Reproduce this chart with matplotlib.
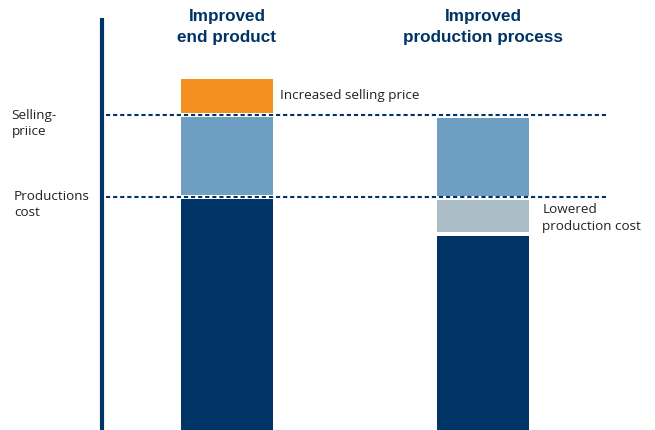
import matplotlib
matplotlib.use("Agg")
import matplotlib.pyplot as plt

# Data (arbitrary units, 0 = bottom of chart)
categories = ["Improved\nend product", "Improved\nproduction process"]
seg_names = ["base cost", "lowered cost", "margin", "increased price"]
seg_bottoms = {
    "base cost": [0, 0],
    "lowered cost": [None, 198],
    "margin": [235, 234],
    "increased price": [317, None],
}
seg_tops = {
    "base cost": [231, 194],
    "lowered cost": [None, 230],
    "margin": [313, 312],
    "increased price": [351, None],
}
seg_colors = {
    "base cost": "#003366",
    "lowered cost": "#ABBDC7",
    "margin": "#6F9EC3",
    "increased price": "#F39020",
}
selling_price = 315
production_cost = 233
level_labels = ["Selling-\npriice", "Productions\ncost"]

navy = "#003366"
fig = plt.figure(figsize=(6.55, 4.30), dpi=100)
ax = fig.add_axes([0, 0, 1, 1])
ax.set_xlim(-0.885, 1.669)
ax.set_ylim(0, 430)
ax.axis("off")

x = list(range(len(categories)))
for name in seg_names:
    for i in x:
        b = seg_bottoms[name][i]
        t = seg_tops[name][i]
        if b is None:
            continue
        ax.bar(i, t - b, bottom=b, width=0.359, color=seg_colors[name],
               edgecolor="none", zorder=2)

# vertical axis line
ax.plot([-0.487, -0.487], [0, 412], color=navy, lw=3, solid_capstyle="butt", zorder=3)

# dotted level lines
for lvl in [selling_price, production_cost]:
    ax.plot([-0.473, 1.485], [lvl, lvl], color=navy, lw=1.5,
            dashes=(2.0, 1.4), zorder=3)

# category titles
for i, c in enumerate(categories):
    ax.text(i, 421, c, ha="center", va="top", fontsize=12.3, fontweight="bold",
            color=navy, family="Liberation Sans", linespacing=1.5)

# level labels
ax.text(-0.84, 321, level_labels[0], ha="left", va="top", fontsize=9.7,
        color="#222222", family="Open Sans", linespacing=1.35)
ax.text(-0.83, 240, level_labels[1], ha="left", va="top", fontsize=9.7,
        color="#222222", family="Open Sans", linespacing=1.35)

# annotations
ax.text(0.205, 334, "Increased selling price", ha="left", va="center",
        fontsize=9.7, color="#222222", family="Open Sans")
ax.text(1.23, 212, "Lowered\nproduction cost", ha="left", va="center",
        fontsize=9.7, color="#222222", family="Open Sans", linespacing=1.45)

fig.savefig("out.png", dpi=100, facecolor="white")
